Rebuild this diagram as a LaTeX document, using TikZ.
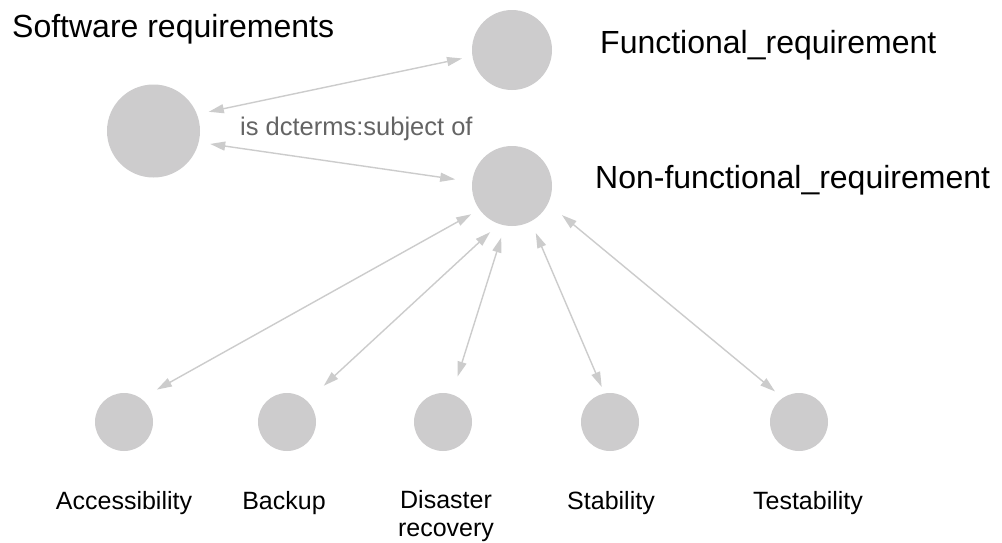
\documentclass[tikz,border=0pt]{standalone}
\usepackage{fontspec}
\setmainfont{Liberation Sans}
\usetikzlibrary{arrows.meta}
\definecolor{nodegray}{RGB}{205,204,205}
\definecolor{edgegray}{RGB}{204,204,204}
\definecolor{labelgray}{RGB}{100,100,100}
\tikzset{
  bubble/.style={circle, fill=nodegray, draw=none, inner sep=0pt, minimum size=#1},
  link/.style 2 args={draw=edgegray, line width=1.4pt,
    {Triangle[length=15pt,width=9pt]}-{Triangle[length=15pt,width=9pt]},
    shorten <=#1, shorten >=#2},
  bigtext/.style={anchor=base west, inner sep=0pt, font=\fontsize{32}{38}\selectfont},
  smalltext/.style={anchor=base, inner sep=0pt, font=\fontsize{25}{28}\selectfont},
  edgetext/.style={anchor=base west, inner sep=0pt, text=labelgray, font=\fontsize{25.5}{30}\selectfont}
}
\begin{document}
\begin{tikzpicture}[x=1pt,y=-1pt]
\useasboundingbox[fill=white] (0,0) rectangle (1002,542);

% nodes
\node[bubble=93pt] (sw) at (153.5,131) {};
\node[bubble=80pt] (fr) at (512,50) {};
\node[bubble=80pt] (nf) at (512,186) {};
\node[bubble=58pt] (acc) at (124,422) {};
\node[bubble=58pt] (bak) at (287,422) {};
\node[bubble=58pt] (dis) at (443,422) {};
\node[bubble=58pt] (sta) at (610,422) {};
\node[bubble=58pt] (tes) at (799,422) {};

% labels
\node[bigtext] (swl) at (12,37) {Software requirements};
\node[bigtext] (frl) at (600,53) {Functional\_requirement};
\node[bigtext] (nfl) at (595,188) {Non-functional\_requirement};
\node[edgetext] (el) at (240,135) {is dcterms:subject of};
\node[smalltext] (accl) at (124,509) {Accessibility};
\node[smalltext] (bakl) at (284,509) {Backup};
\node[smalltext, anchor=north, align=center] (disl) at (446,490) {Disaster\\recovery};
\node[smalltext] (stal) at (611,509) {Stability};
\node[smalltext] (tesl) at (808,509) {Testability};

% connectors
\path[link={12pt}{10.5pt}] (sw.21) -- (fr.189);
\path[link={11.5pt}{17pt}] (sw.-14) -- (nf.174);
\path[link={9.5pt}{18pt}] (nf.216) -- (acc.54);
\path[link={12pt}{22.5pt}] (nf.251) -- (bak.46);
\path[link={12.5pt}{18.5pt}] (nf.260) -- (dis.72);
\path[link={12.5pt}{7pt}] (nf.298) -- (sta.101);
\path[link={18pt}{10pt}] (nf.334) -- (tes.124);
\end{tikzpicture}
\end{document}
